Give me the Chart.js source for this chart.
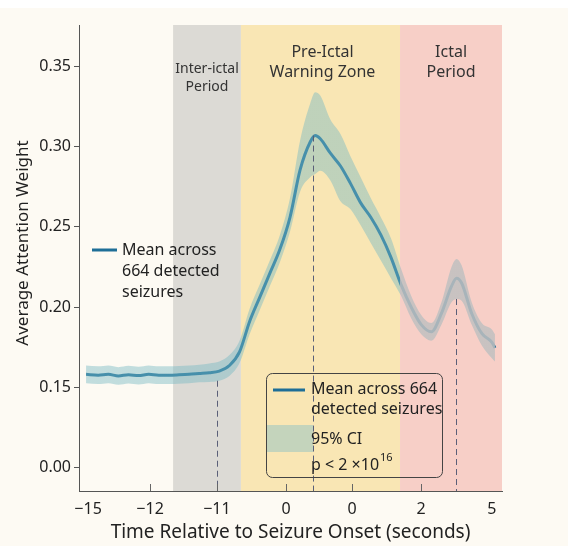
<!DOCTYPE html>
<html>
<head>
<meta charset="utf-8">
<script src="https://cdn.jsdelivr.net/npm/chart.js@4/dist/chart.umd.min.js"></script>
<style>
  html, body { margin: 0; padding: 0; background: #fff; }
</style>
</head>
<body>
<canvas id="chart" width="568" height="546"></canvas>
<script>
// values
const times = [-15.1, -14.5, -14, -13.5, -13, -12.5, -12, -11.5, -11, -10.5, -10, -9.5, -9, -8.5, -8, -7.5, -7, -6.5, -6, -5.5, -5, -4.5, -4, -3.75, -3.5, -3, -2.5, -2, -1.5, -1, -0.5, 0, 0.5, 1, 1.5, 2, 2.5, 3, 3.25, 3.5, 4, 4.5, 5, 5.15];
const meanWeight = [0.158, 0.1575, 0.158, 0.157, 0.1578, 0.1572, 0.158, 0.1575, 0.1575, 0.1577, 0.158, 0.1585, 0.159, 0.160, 0.1635, 0.172, 0.191, 0.206, 0.221, 0.236, 0.256, 0.2856, 0.303, 0.307, 0.305, 0.296, 0.288, 0.277, 0.265, 0.256, 0.245, 0.231, 0.214, 0.200, 0.189, 0.1845, 0.196, 0.213, 0.218, 0.215, 0.196, 0.1835, 0.178, 0.1745];
const ciUpper = [0.1635, 0.163, 0.1635, 0.1625, 0.1633, 0.1627, 0.1635, 0.163, 0.163, 0.1632, 0.1635, 0.164, 0.1648, 0.166, 0.170, 0.179, 0.199, 0.214, 0.229, 0.245, 0.268, 0.304, 0.327, 0.334, 0.332, 0.317, 0.308, 0.294, 0.281, 0.268, 0.256, 0.243, 0.224, 0.207, 0.195, 0.190, 0.203, 0.225, 0.230, 0.226, 0.203, 0.190, 0.186, 0.183];
const ciLower = [0.1525, 0.152, 0.1525, 0.1515, 0.1523, 0.1517, 0.1525, 0.152, 0.152, 0.1522, 0.1525, 0.153, 0.1532, 0.154, 0.157, 0.165, 0.183, 0.198, 0.213, 0.228, 0.247, 0.272, 0.281, 0.283, 0.285, 0.279, 0.266, 0.261, 0.251, 0.240, 0.229, 0.218, 0.207, 0.193, 0.183, 0.179, 0.189, 0.203, 0.205, 0.204, 0.189, 0.176, 0.168, 0.166];

const xTickPositions = [-15, -11.93, -8.62, -5.2, -1.93, 1.49, 5];
const xTickLabels = ['\u221215', '\u221212', '\u221211', '0', '0', '2', '5'];
const yTickPositions = [0.10, 0.15, 0.20, 0.25, 0.30, 0.35];
const yTickLabels = ['0.00', '0.15', '0.20', '0.25', '0.30', '0.35'];

const periodNames = [['Inter-ictal', 'Period'], ['Pre-Ictal', 'Warning Zone'], ['Ictal', 'Period']];
const periodStart = [-10.79, -7.43, 0.45];
const periodEnd = [-7.43, 0.45, 5.5];

const markerTimes = [-8.62, -3.86, 3.22];
const markerFrom = [0.154, 0.307, 0.205];

const FONT = '"Noto Sans", sans-serif';
const INK = '#222';
const LINE = '#1e6e97';
const periodColors = ['#dcdad5', '#f9e6b4', '#f7cfc7'];

function toPoints(vals) {
    return times.map((t, i) => ({ x: t, y: vals[i] }));
}

function bandFill(ctx) {
    const chart = ctx.chart;
    const area = chart.chartArea;
    if (!area) return 'rgba(120,185,195,0.45)';
    const g = chart.ctx.createLinearGradient(area.left, 0, area.right, 0);
    const stop = (chart.scales.x.getPixelForValue(periodStart[2]) - area.left) / (area.right - area.left);
    g.addColorStop(0, 'rgba(120,185,195,0.45)');
    g.addColorStop(stop, 'rgba(120,185,195,0.45)');
    g.addColorStop(stop, 'rgba(192,192,192,0.85)');
    g.addColorStop(1, 'rgba(192,192,192,0.85)');
    return g;
}

const decor = {
    id: 'decor',
    beforeDraw(chart) {
        const c = chart.ctx;
        c.save();
        c.fillStyle = '#fdfaf3';
        c.fillRect(0, 8, chart.width, chart.height - 8);
        c.restore();
    },
    beforeDatasetsDraw(chart) {
        const c = chart.ctx;
        const { top, bottom } = chart.chartArea;
        const x = chart.scales.x;
        c.save();
        periodStart.forEach((s, i) => {
            const x0 = x.getPixelForValue(s);
            const x1 = x.getPixelForValue(periodEnd[i]);
            c.fillStyle = periodColors[i];
            c.fillRect(x0, top, x1 - x0, bottom - top);
            c.fillStyle = '#333';
            c.textAlign = 'center';
            c.textBaseline = 'middle';
            const small = i === 0;
            c.font = (small ? '14px ' : '16px ') + FONT;
            const cx = (x0 + x1) / 2 + (i === 1 ? 2 : 0);
            const y0 = top + (small ? 44 : 27);
            const step = small ? 18 : 20;
            periodNames[i].forEach((ln, j) => c.fillText(ln, cx, y0 + j * step));
        });
        c.restore();
    },
    afterDatasetsDraw(chart) {
        const c = chart.ctx;
        const { bottom } = chart.chartArea;
        const x = chart.scales.x, y = chart.scales.y;
        c.save();
        // dashed markers
        c.strokeStyle = '#5a5f78';
        c.lineWidth = 1;
        c.setLineDash([6, 4]);
        markerTimes.forEach((t, i) => {
            const px = Math.round(x.getPixelForValue(t)) + 0.5;
            c.beginPath();
            c.moveTo(px, y.getPixelForValue(markerFrom[i]));
            c.lineTo(px, bottom);
            c.stroke();
        });
        c.setLineDash([]);
        // inner x tick marks
        c.strokeStyle = '#666';
        xTickPositions.slice(1, -1).forEach(t => {
            const px = Math.round(x.getPixelForValue(t)) + 0.5;
            c.beginPath();
            c.moveTo(px, bottom - 7);
            c.lineTo(px, bottom);
            c.stroke();
        });

        // left legend
        c.strokeStyle = LINE;
        c.lineWidth = 3;
        c.beginPath();
        c.moveTo(92, 250);
        c.lineTo(117, 250);
        c.stroke();
        c.fillStyle = INK;
        c.font = '16px ' + FONT;
        c.textAlign = 'left';
        c.textBaseline = 'middle';
        ['Mean across', '664 detected', 'seizures'].forEach((ln, j) => c.fillText(ln, 122, 250 + j * 21));

        // right legend box
        c.fillStyle = '#c4d4bc';
        c.fillRect(266, 425, 47, 27);
        c.strokeStyle = '#444';
        c.lineWidth = 1;
        c.beginPath();
        c.roundRect(266.5, 373.5, 176, 104, 6);
        c.stroke();
        c.strokeStyle = LINE;
        c.lineWidth = 3;
        c.beginPath();
        c.moveTo(273, 390);
        c.lineTo(305, 390);
        c.stroke();
        c.fillStyle = INK;
        c.font = '16px ' + FONT;
        c.fillText('Mean across 664', 311, 389);
        c.fillText('detected seizures', 311, 409);
        c.fillText('95% CI', 311, 439);
        const p = 'p < 2 \u00d710';
        c.fillText(p, 311, 465);
        const w = c.measureText(p).width;
        c.font = '11px ' + FONT;
        c.fillText('16', 311 + w + 1, 458);

        // y axis title
        c.translate(23, 243);
        c.rotate(-Math.PI / 2);
        c.textAlign = 'center';
        c.font = '17px ' + FONT;
        c.fillText('Average Attention Weight', 0, 0);
        c.restore();
    }
};

new Chart(document.getElementById('chart'), {
    type: 'line',
    data: {
        datasets: [
            {
                data: toPoints(ciUpper),
                borderWidth: 0,
                pointRadius: 0,
                fill: '+1',
                backgroundColor: bandFill,
                cubicInterpolationMode: 'monotone'
            },
            {
                data: toPoints(ciLower),
                borderWidth: 0,
                pointRadius: 0,
                fill: false,
                cubicInterpolationMode: 'monotone'
            },
            {
                data: toPoints(meanWeight),
                borderColor: LINE,
                borderWidth: 3,
                pointRadius: 0,
                fill: false,
                cubicInterpolationMode: 'monotone'
            }
        ]
    },
    options: {
        responsive: false,
        animation: false,
        layout: { padding: { top: 25, right: 66, left: 0, bottom: 0 } },
        plugins: {
            legend: { display: false },
            tooltip: { enabled: false }
        },
        scales: {
            x: {
                type: 'linear',
                min: -15.45,
                max: 5.5,
                afterFit: s => { s.height = 55; },
                afterBuildTicks: s => { s.ticks = xTickPositions.map(v => ({ value: v })); },
                ticks: {
                    autoSkip: false,
                    maxRotation: 0,
                    padding: 9,
                    color: INK,
                    font: { family: FONT, size: 16 },
                    callback: (v, i) => xTickLabels[i]
                },
                grid: { drawOnChartArea: false, drawTicks: false },
                border: { display: true, color: '#555', width: 1 },
                title: {
                    display: true,
                    text: 'Time Relative to Seizure Onset (seconds)',
                    color: INK,
                    font: { family: FONT, size: 19 },
                    padding: { top: 0, bottom: 2 }
                }
            },
            y: {
                min: 0.0852,
                max: 0.376,
                afterFit: s => { s.width = 79; },
                afterBuildTicks: s => { s.ticks = yTickPositions.map(v => ({ value: v })); },
                ticks: {
                    autoSkip: false,
                    padding: 3,
                    color: INK,
                    font: { family: FONT, size: 16 },
                    callback: (v, i) => yTickLabels[i]
                },
                grid: { drawOnChartArea: false, drawTicks: true, tickLength: 5, color: '#555' },
                border: { display: true, color: '#555', width: 1 }
            }
        }
    },
    plugins: [decor]
});
</script>
</body>
</html>
